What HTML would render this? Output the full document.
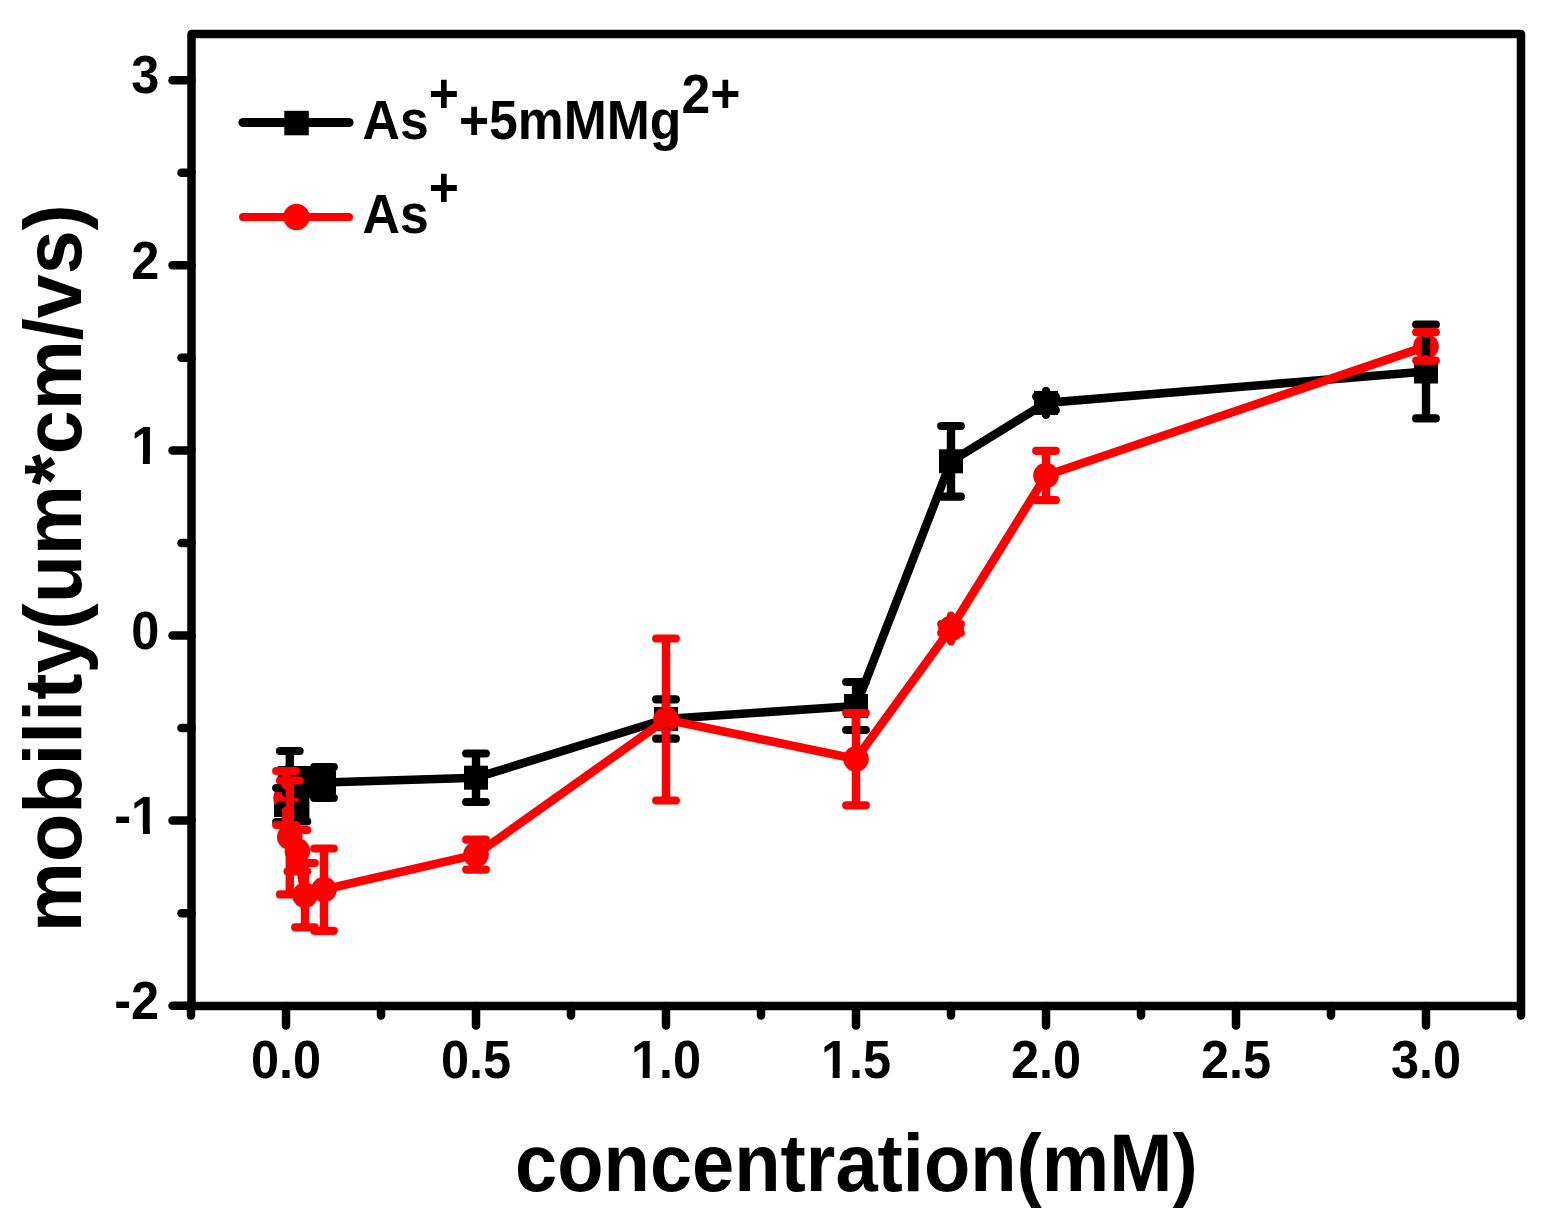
<!DOCTYPE html>
<html><head><meta charset="utf-8"><title>mobility vs concentration</title><style>html,body{margin:0;padding:0;background:#fff;overflow:hidden}</style></head><body>
<svg width="1553" height="1230" viewBox="0 0 1553 1230" style="display:block">
<rect x="0" y="0" width="1553" height="1230" fill="#fff"/>
<g fill="none" stroke="#000" stroke-width="8.5" stroke-linecap="round" stroke-linejoin="round">
<path d="M191.5,1006.0 L191.5,34.0 L1521.0,34.0 L1521.0,1006.0 Z"/>
<line x1="172.5" y1="80.2" x2="191.5" y2="80.2"/>
<line x1="172.5" y1="265.3" x2="191.5" y2="265.3"/>
<line x1="172.5" y1="450.4" x2="191.5" y2="450.4"/>
<line x1="172.5" y1="635.5" x2="191.5" y2="635.5"/>
<line x1="172.5" y1="820.6" x2="191.5" y2="820.6"/>
<line x1="172.5" y1="1005.7" x2="191.5" y2="1005.7"/>
<line x1="181.5" y1="172.75" x2="191.5" y2="172.75"/>
<line x1="181.5" y1="357.85" x2="191.5" y2="357.85"/>
<line x1="181.5" y1="542.95" x2="191.5" y2="542.95"/>
<line x1="181.5" y1="728.05" x2="191.5" y2="728.05"/>
<line x1="181.5" y1="913.15" x2="191.5" y2="913.15"/>
<line x1="286" y1="1006.0" x2="286" y2="1025.5"/>
<line x1="476" y1="1006.0" x2="476" y2="1025.5"/>
<line x1="666" y1="1006.0" x2="666" y2="1025.5"/>
<line x1="856" y1="1006.0" x2="856" y2="1025.5"/>
<line x1="1046" y1="1006.0" x2="1046" y2="1025.5"/>
<line x1="1236" y1="1006.0" x2="1236" y2="1025.5"/>
<line x1="1426" y1="1006.0" x2="1426" y2="1025.5"/>
<line x1="191" y1="1006.0" x2="191" y2="1015.5"/>
<line x1="381" y1="1006.0" x2="381" y2="1015.5"/>
<line x1="571" y1="1006.0" x2="571" y2="1015.5"/>
<line x1="761" y1="1006.0" x2="761" y2="1015.5"/>
<line x1="951" y1="1006.0" x2="951" y2="1015.5"/>
<line x1="1141" y1="1006.0" x2="1141" y2="1015.5"/>
<line x1="1331" y1="1006.0" x2="1331" y2="1015.5"/>
<line x1="1521" y1="1006.0" x2="1521" y2="1015.5"/>
</g>
<defs><clipPath id="c0" clipPathUnits="userSpaceOnUse"><path clip-rule="evenodd" d="M-161.1,-107.4H161.1V53.7H-161.1ZM-29.86,-6.28H-17.32V16.11H-29.86ZM-9.96,-6.28H2.36V16.11H-9.96Z"/></clipPath><clipPath id="c1" clipPathUnits="userSpaceOnUse"><path clip-rule="evenodd" d="M-161.1,-107.4H161.1V53.7H-161.1ZM-29.86,-6.28H-17.32V16.11H-29.86ZM-9.96,-6.28H2.36V16.11H-9.96Z"/></clipPath><clipPath id="c2" clipPathUnits="userSpaceOnUse"><path clip-rule="evenodd" d="M-161.1,-107.4H161.1V53.7H-161.1ZM-37.32,-6.28H-24.79V16.11H-37.32ZM-17.42,-6.28H-5.10V16.11H-17.42Z"/></clipPath><clipPath id="c3" clipPathUnits="userSpaceOnUse"><path clip-rule="evenodd" d="M-161.1,-107.4H161.1V53.7H-161.1ZM-37.32,-6.28H-24.79V16.11H-37.32ZM-17.42,-6.28H-5.10V16.11H-17.42Z"/></clipPath></defs>
<g font-family="'Liberation Sans', Arial, sans-serif" font-weight="bold" font-size="53.7" fill="#000">
<text transform="translate(159.2,93.4) scale(0.94,1)" text-anchor="end">3</text>
<text transform="translate(159.2,278.5) scale(0.94,1)" text-anchor="end">2</text>
<text transform="translate(159.2,463.6) scale(0.94,1)" text-anchor="end" clip-path="url(#c0)">1</text>
<text transform="translate(159.2,648.7) scale(0.94,1)" text-anchor="end">0</text>
<text transform="translate(159.2,833.8) scale(0.94,1)" text-anchor="end" clip-path="url(#c1)">-1</text>
<text transform="translate(159.2,1018.9) scale(0.94,1)" text-anchor="end">-2</text>
<text transform="translate(286,1077.6) scale(0.94,1)" text-anchor="middle">0.0</text>
<text transform="translate(476,1077.6) scale(0.94,1)" text-anchor="middle">0.5</text>
<text transform="translate(666,1077.6) scale(0.94,1)" text-anchor="middle" clip-path="url(#c2)">1.0</text>
<text transform="translate(856,1077.6) scale(0.94,1)" text-anchor="middle" clip-path="url(#c3)">1.5</text>
<text transform="translate(1046,1077.6) scale(0.94,1)" text-anchor="middle">2.0</text>
<text transform="translate(1236,1077.6) scale(0.94,1)" text-anchor="middle">2.5</text>
<text transform="translate(1426,1077.6) scale(0.94,1)" text-anchor="middle">3.0</text>
</g>
<text font-family="'Liberation Sans', Arial, sans-serif" font-weight="bold" font-size="80.8" transform="translate(515.04,1191.3) scale(0.9389,1)">concentration(mM)</text>
<text font-family="'Liberation Sans', Arial, sans-serif" font-weight="bold" font-size="80.8" transform="translate(80.5,932.2) rotate(-90) scale(0.9770,1)">mobility(um*cm/vs)</text>
<g stroke-linecap="round">
<line x1="243" y1="122.5" x2="349" y2="122.5" stroke="#000" stroke-width="9"/>
<line x1="243" y1="217" x2="349" y2="217" stroke="#f00" stroke-width="8"/>
</g>
<rect x="284.3" y="110.8" width="24.5" height="24.5" fill="#000"/>
<circle cx="296.5" cy="217" r="13.2" fill="#f00"/>
<text font-family="'Liberation Sans', Arial, sans-serif" font-weight="bold" font-size="55.0" transform="translate(362.61,138.8) scale(0.94,1)"><tspan>As</tspan><tspan dy="-27">+</tspan><tspan dy="27">+5mMMg</tspan><tspan dy="-25.5">2</tspan><tspan dy="-1.5">+</tspan></text>
<text font-family="'Liberation Sans', Arial, sans-serif" font-weight="bold" font-size="55.0" transform="translate(362.61,232.8) scale(0.94,1)"><tspan>As</tspan><tspan dy="-27">+</tspan></text>
<polyline points="286,805 289.8,778 297.4,806 305,782 324,782.5 476,777.7 666,719 856,706 951,461.3 1046,402.9 1426,371.5" fill="none" stroke="#000" stroke-width="8.6" stroke-linejoin="round"/>
<g fill="#000">
<rect x="274" y="793" width="24" height="24"/>
<rect x="277.8" y="766" width="24" height="24"/>
<rect x="285.4" y="794" width="24" height="24"/>
<rect x="293" y="770" width="24" height="24"/>
<rect x="312" y="770.5" width="24" height="24"/>
<rect x="464" y="765.7" width="24" height="24"/>
<rect x="654" y="707" width="24" height="24"/>
<rect x="844" y="694" width="24" height="24"/>
<rect x="939" y="449.3" width="24" height="24"/>
<rect x="1034" y="390.9" width="24" height="24"/>
<rect x="1414" y="359.5" width="24" height="24"/>
</g>
<polyline points="286,798 289.8,837 297.4,851 305,895.2 324,889.5 476,854.6 666,719.5 856,759 951,628.5 1046,475.5 1426,346.4" fill="none" stroke="#f00" stroke-width="8.6" stroke-linejoin="round"/>
<g fill="#f00">
<circle cx="286" cy="798" r="12.8"/>
<circle cx="289.8" cy="837" r="12.8"/>
<circle cx="297.4" cy="851" r="12.8"/>
<circle cx="305" cy="895.2" r="12.8"/>
<circle cx="324" cy="889.5" r="12.8"/>
<circle cx="476" cy="854.6" r="12.8"/>
<circle cx="666" cy="719.5" r="12.8"/>
<circle cx="856" cy="759" r="12.8"/>
<circle cx="951" cy="628.5" r="12.8"/>
<circle cx="1046" cy="475.5" r="12.8"/>
<circle cx="1426" cy="346.4" r="12.8"/>
</g>
<g stroke="#000" stroke-linecap="round" fill="none">
<line x1="286" y1="788" x2="286" y2="793" stroke-width="8.4" stroke-linecap="butt"/>
<line x1="286" y1="817" x2="286" y2="822" stroke-width="8.4" stroke-linecap="butt"/>
<circle cx="286" cy="793" r="4.2" fill="#000" stroke="none"/>
<circle cx="286" cy="817" r="4.2" fill="#000" stroke="none"/>
<line x1="276.2" y1="788" x2="295.8" y2="788" stroke-width="8.2"/>
<line x1="276.2" y1="822" x2="295.8" y2="822" stroke-width="8.2"/>
<line x1="289.8" y1="751" x2="289.8" y2="766" stroke-width="8.4" stroke-linecap="butt"/>
<line x1="289.8" y1="790" x2="289.8" y2="805.5" stroke-width="8.4" stroke-linecap="butt"/>
<circle cx="289.8" cy="766" r="4.2" fill="#000" stroke="none"/>
<circle cx="289.8" cy="790" r="4.2" fill="#000" stroke="none"/>
<line x1="280" y1="751" x2="299.6" y2="751" stroke-width="8.2"/>
<line x1="280" y1="805.5" x2="299.6" y2="805.5" stroke-width="8.2"/>
<line x1="297.4" y1="790" x2="297.4" y2="794" stroke-width="8.4" stroke-linecap="butt"/>
<line x1="297.4" y1="818" x2="297.4" y2="821.5" stroke-width="8.4" stroke-linecap="butt"/>
<circle cx="297.4" cy="794" r="4.2" fill="#000" stroke="none"/>
<circle cx="297.4" cy="818" r="4.2" fill="#000" stroke="none"/>
<line x1="287.6" y1="790" x2="307.2" y2="790" stroke-width="8.2"/>
<line x1="287.6" y1="821.5" x2="307.2" y2="821.5" stroke-width="8.2"/>
<line x1="305" y1="770" x2="305" y2="770" stroke-width="8.4" stroke-linecap="butt"/>
<line x1="305" y1="794" x2="305" y2="794" stroke-width="8.4" stroke-linecap="butt"/>
<circle cx="305" cy="770" r="4.2" fill="#000" stroke="none"/>
<circle cx="305" cy="794" r="4.2" fill="#000" stroke="none"/>
<line x1="295.2" y1="770" x2="314.8" y2="770" stroke-width="8.2"/>
<line x1="295.2" y1="794" x2="314.8" y2="794" stroke-width="8.2"/>
<line x1="324" y1="767" x2="324" y2="770.5" stroke-width="8.4" stroke-linecap="butt"/>
<line x1="324" y1="794.5" x2="324" y2="798" stroke-width="8.4" stroke-linecap="butt"/>
<circle cx="324" cy="770.5" r="4.2" fill="#000" stroke="none"/>
<circle cx="324" cy="794.5" r="4.2" fill="#000" stroke="none"/>
<line x1="314.2" y1="767" x2="333.8" y2="767" stroke-width="8.2"/>
<line x1="314.2" y1="798" x2="333.8" y2="798" stroke-width="8.2"/>
<line x1="476" y1="753.5" x2="476" y2="765.7" stroke-width="8.4" stroke-linecap="butt"/>
<line x1="476" y1="789.7" x2="476" y2="802" stroke-width="8.4" stroke-linecap="butt"/>
<circle cx="476" cy="765.7" r="4.2" fill="#000" stroke="none"/>
<circle cx="476" cy="789.7" r="4.2" fill="#000" stroke="none"/>
<line x1="466.2" y1="753.5" x2="485.8" y2="753.5" stroke-width="8.2"/>
<line x1="466.2" y1="802" x2="485.8" y2="802" stroke-width="8.2"/>
<line x1="666" y1="699.4" x2="666" y2="707" stroke-width="8.4" stroke-linecap="butt"/>
<line x1="666" y1="731" x2="666" y2="738.7" stroke-width="8.4" stroke-linecap="butt"/>
<circle cx="666" cy="707" r="4.2" fill="#000" stroke="none"/>
<circle cx="666" cy="731" r="4.2" fill="#000" stroke="none"/>
<line x1="656.2" y1="699.4" x2="675.8" y2="699.4" stroke-width="8.2"/>
<line x1="656.2" y1="738.7" x2="675.8" y2="738.7" stroke-width="8.2"/>
<line x1="856" y1="682" x2="856" y2="694" stroke-width="8.4" stroke-linecap="butt"/>
<line x1="856" y1="718" x2="856" y2="730" stroke-width="8.4" stroke-linecap="butt"/>
<circle cx="856" cy="694" r="4.2" fill="#000" stroke="none"/>
<circle cx="856" cy="718" r="4.2" fill="#000" stroke="none"/>
<line x1="846.2" y1="682" x2="865.8" y2="682" stroke-width="8.2"/>
<line x1="846.2" y1="730" x2="865.8" y2="730" stroke-width="8.2"/>
<line x1="951" y1="426" x2="951" y2="449.3" stroke-width="8.4" stroke-linecap="butt"/>
<line x1="951" y1="473.3" x2="951" y2="496.7" stroke-width="8.4" stroke-linecap="butt"/>
<circle cx="951" cy="449.3" r="4.2" fill="#000" stroke="none"/>
<circle cx="951" cy="473.3" r="4.2" fill="#000" stroke="none"/>
<line x1="941.2" y1="426" x2="960.8" y2="426" stroke-width="8.2"/>
<line x1="941.2" y1="496.7" x2="960.8" y2="496.7" stroke-width="8.2"/>
<line x1="1046" y1="396.5" x2="1046" y2="390.9" stroke-width="8.4" stroke-linecap="butt"/>
<line x1="1046" y1="414.9" x2="1046" y2="410.3" stroke-width="8.4" stroke-linecap="butt"/>
<circle cx="1046" cy="390.9" r="4.2" fill="#000" stroke="none"/>
<circle cx="1046" cy="414.9" r="4.2" fill="#000" stroke="none"/>
<line x1="1036.2" y1="396.5" x2="1055.8" y2="396.5" stroke-width="8.2"/>
<line x1="1036.2" y1="410.3" x2="1055.8" y2="410.3" stroke-width="8.2"/>
<line x1="1426" y1="324.5" x2="1426" y2="359.5" stroke-width="8.4" stroke-linecap="butt"/>
<line x1="1426" y1="383.5" x2="1426" y2="418.4" stroke-width="8.4" stroke-linecap="butt"/>
<circle cx="1426" cy="359.5" r="4.2" fill="#000" stroke="none"/>
<circle cx="1426" cy="383.5" r="4.2" fill="#000" stroke="none"/>
<line x1="1416.2" y1="324.5" x2="1435.8" y2="324.5" stroke-width="8.2"/>
<line x1="1416.2" y1="418.4" x2="1435.8" y2="418.4" stroke-width="8.2"/>
</g>
<g stroke="#f00" stroke-linecap="round" fill="none">
<line x1="286" y1="771" x2="286" y2="785.2" stroke-width="8.4" stroke-linecap="butt"/>
<line x1="286" y1="810.8" x2="286" y2="825" stroke-width="8.4" stroke-linecap="butt"/>
<circle cx="286" cy="785.2" r="4.2" fill="#f00" stroke="none"/>
<circle cx="286" cy="810.8" r="4.2" fill="#f00" stroke="none"/>
<line x1="276.2" y1="771" x2="295.8" y2="771" stroke-width="8.2"/>
<line x1="276.2" y1="825" x2="295.8" y2="825" stroke-width="8.2"/>
<line x1="289.8" y1="780.5" x2="289.8" y2="824.2" stroke-width="8.4" stroke-linecap="butt"/>
<line x1="289.8" y1="849.8" x2="289.8" y2="894.4" stroke-width="8.4" stroke-linecap="butt"/>
<circle cx="289.8" cy="824.2" r="4.2" fill="#f00" stroke="none"/>
<circle cx="289.8" cy="849.8" r="4.2" fill="#f00" stroke="none"/>
<line x1="280" y1="780.5" x2="299.6" y2="780.5" stroke-width="8.2"/>
<line x1="280" y1="894.4" x2="299.6" y2="894.4" stroke-width="8.2"/>
<line x1="297.4" y1="830" x2="297.4" y2="838.2" stroke-width="8.4" stroke-linecap="butt"/>
<line x1="297.4" y1="863.8" x2="297.4" y2="871.5" stroke-width="8.4" stroke-linecap="butt"/>
<circle cx="297.4" cy="838.2" r="4.2" fill="#f00" stroke="none"/>
<circle cx="297.4" cy="863.8" r="4.2" fill="#f00" stroke="none"/>
<line x1="287.6" y1="830" x2="307.2" y2="830" stroke-width="8.2"/>
<line x1="287.6" y1="871.5" x2="307.2" y2="871.5" stroke-width="8.2"/>
<line x1="305" y1="863" x2="305" y2="882.4" stroke-width="8.4" stroke-linecap="butt"/>
<line x1="305" y1="908" x2="305" y2="927.4" stroke-width="8.4" stroke-linecap="butt"/>
<circle cx="305" cy="882.4" r="4.2" fill="#f00" stroke="none"/>
<circle cx="305" cy="908" r="4.2" fill="#f00" stroke="none"/>
<line x1="295.2" y1="863" x2="314.8" y2="863" stroke-width="8.2"/>
<line x1="295.2" y1="927.4" x2="314.8" y2="927.4" stroke-width="8.2"/>
<line x1="324" y1="848.5" x2="324" y2="876.7" stroke-width="8.4" stroke-linecap="butt"/>
<line x1="324" y1="902.3" x2="324" y2="930.8" stroke-width="8.4" stroke-linecap="butt"/>
<circle cx="324" cy="876.7" r="4.2" fill="#f00" stroke="none"/>
<circle cx="324" cy="902.3" r="4.2" fill="#f00" stroke="none"/>
<line x1="314.2" y1="848.5" x2="333.8" y2="848.5" stroke-width="8.2"/>
<line x1="314.2" y1="930.8" x2="333.8" y2="930.8" stroke-width="8.2"/>
<line x1="476" y1="839.7" x2="476" y2="841.8" stroke-width="8.4" stroke-linecap="butt"/>
<line x1="476" y1="867.4" x2="476" y2="869.6" stroke-width="8.4" stroke-linecap="butt"/>
<circle cx="476" cy="841.8" r="4.2" fill="#f00" stroke="none"/>
<circle cx="476" cy="867.4" r="4.2" fill="#f00" stroke="none"/>
<line x1="466.2" y1="839.7" x2="485.8" y2="839.7" stroke-width="8.2"/>
<line x1="466.2" y1="869.6" x2="485.8" y2="869.6" stroke-width="8.2"/>
<line x1="666" y1="638.5" x2="666" y2="706.7" stroke-width="8.4" stroke-linecap="butt"/>
<line x1="666" y1="732.3" x2="666" y2="800.5" stroke-width="8.4" stroke-linecap="butt"/>
<circle cx="666" cy="706.7" r="4.2" fill="#f00" stroke="none"/>
<circle cx="666" cy="732.3" r="4.2" fill="#f00" stroke="none"/>
<line x1="656.2" y1="638.5" x2="675.8" y2="638.5" stroke-width="8.2"/>
<line x1="656.2" y1="800.5" x2="675.8" y2="800.5" stroke-width="8.2"/>
<line x1="856" y1="713" x2="856" y2="746.2" stroke-width="8.4" stroke-linecap="butt"/>
<line x1="856" y1="771.8" x2="856" y2="805.3" stroke-width="8.4" stroke-linecap="butt"/>
<circle cx="856" cy="746.2" r="4.2" fill="#f00" stroke="none"/>
<circle cx="856" cy="771.8" r="4.2" fill="#f00" stroke="none"/>
<line x1="846.2" y1="713" x2="865.8" y2="713" stroke-width="8.2"/>
<line x1="846.2" y1="805.3" x2="865.8" y2="805.3" stroke-width="8.2"/>
<line x1="951" y1="624" x2="951" y2="615.7" stroke-width="8.4" stroke-linecap="butt"/>
<line x1="951" y1="641.3" x2="951" y2="633" stroke-width="8.4" stroke-linecap="butt"/>
<circle cx="951" cy="615.7" r="4.2" fill="#f00" stroke="none"/>
<circle cx="951" cy="641.3" r="4.2" fill="#f00" stroke="none"/>
<line x1="941.2" y1="624" x2="960.8" y2="624" stroke-width="8.2"/>
<line x1="941.2" y1="633" x2="960.8" y2="633" stroke-width="8.2"/>
<line x1="1046" y1="450.8" x2="1046" y2="462.7" stroke-width="8.4" stroke-linecap="butt"/>
<line x1="1046" y1="488.3" x2="1046" y2="500.2" stroke-width="8.4" stroke-linecap="butt"/>
<circle cx="1046" cy="462.7" r="4.2" fill="#f00" stroke="none"/>
<circle cx="1046" cy="488.3" r="4.2" fill="#f00" stroke="none"/>
<line x1="1036.2" y1="450.8" x2="1055.8" y2="450.8" stroke-width="8.2"/>
<line x1="1036.2" y1="500.2" x2="1055.8" y2="500.2" stroke-width="8.2"/>
<line x1="1426" y1="332.2" x2="1426" y2="333.6" stroke-width="8.4" stroke-linecap="butt"/>
<line x1="1426" y1="359.2" x2="1426" y2="360.6" stroke-width="8.4" stroke-linecap="butt"/>
<circle cx="1426" cy="333.6" r="4.2" fill="#f00" stroke="none"/>
<circle cx="1426" cy="359.2" r="4.2" fill="#f00" stroke="none"/>
<line x1="1416.2" y1="332.2" x2="1435.8" y2="332.2" stroke-width="8.2"/>
<line x1="1416.2" y1="360.6" x2="1435.8" y2="360.6" stroke-width="8.2"/>
</g>
</svg>
</body></html>
